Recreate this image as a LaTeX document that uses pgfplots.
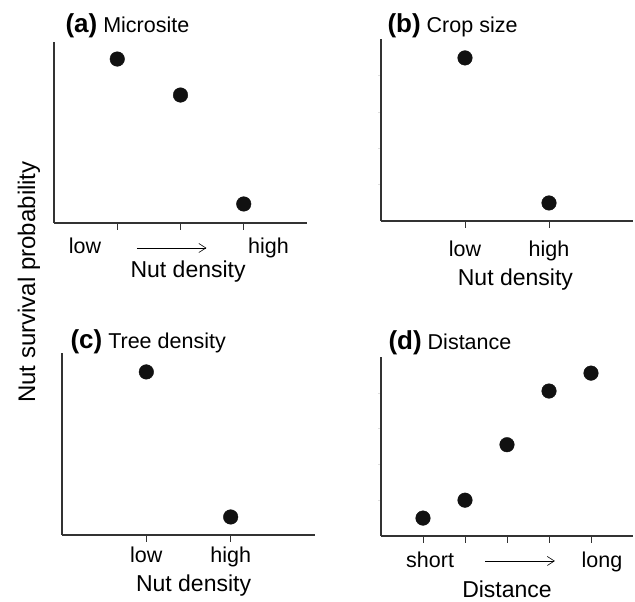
\documentclass[border=0pt]{standalone}
\usepackage{fontspec}
\setmainfont{Liberation Sans}
\usepackage{pgfplots}
\pgfplotsset{compat=1.18}
\usetikzlibrary{arrows.meta}
\definecolor{dot}{HTML}{111111}
\definecolor{axc}{HTML}{333333}
\newcommand{\tl}{\fontsize{21.5}{24}\selectfont}
\newcommand{\xl}{\fontsize{23}{26}\selectfont}
\newcommand{\ttl}[2]{{\fontsize{26}{28}\selectfont\bfseries #1}\fontsize{21.5}{24}\selectfont\ #2}
\pgfplotsset{
  panel/.style={
    scale only axis, anchor=south west,
    axis x line*=bottom, axis y line*=left,
    axis line style={-, line width=1.1pt, axc},
    ymin=0, ymax=1,
    xticklabels={}, yticklabels={},
    tick align=outside, major tick length=7pt,
    xtick style={line width=0.9pt, axc},
    ytick style={line width=0.4pt, gray!25, /pgfplots/major tick length=3pt},
    ytick=\empty,
    clip=false,
  },
  dots/.style={only marks, mark=*, mark size=7.3pt, mark options={fill=dot, draw=dot}},
  faint/.style={ytick={0.2,0.4,0.6,0.8}},
}
\begin{document}
\begin{tikzpicture}[x=1pt,y=1pt]
\useasboundingbox (0,0) rectangle (635,602);
\node[rotate=90, anchor=base] at (35,320) {\fontsize{24}{26}\selectfont Nut survival probability};
% (a)
\begin{axis}[panel, at={(54pt,379pt)}, width=253pt, height=181pt, xmin=0, xmax=4, xtick={1,2,3}]
\addplot[dots] coordinates {(1,0.906) (2,0.707) (3,0.105)};
\node[anchor=base west] at (rel axis cs:0,1) [xshift=8pt, yshift=9pt] {\ttl{(a)}{Microsite}};
\node[anchor=base] at (axis cs:0.49,0) [yshift=-31pt] {\tl low};
\node[anchor=base] at (axis cs:3.39,0) [yshift=-31pt] {\tl high};
\draw[line width=0.6pt, -{Straight Barb[length=7pt,width=9pt,line width=0.6pt]}] ([yshift=-25pt]axis cs:1.31,0) -- ([yshift=-25pt]axis cs:2.41,0);
\node[anchor=base] at (axis cs:2.12,0) [yshift=-55pt] {\xl Nut density};
\end{axis}
% (b)
\begin{axis}[panel, faint, at={(381pt,381pt)}, width=252pt, height=182pt, xmin=0, xmax=3, xtick={1,2}]
\addplot[dots] coordinates {(1,0.896) (2,0.099)};
\node[anchor=base west] at (rel axis cs:0,1) [xshift=3pt, yshift=6pt] {\ttl{(b)}{Crop size}};
\node[anchor=base] at (axis cs:1,0) [yshift=-36pt] {\tl low};
\node[anchor=base] at (axis cs:2,0) [yshift=-36pt] {\tl high};
\node[anchor=base] at (axis cs:1.6,0) [yshift=-65pt] {\xl Nut density};
\end{axis}
% (c)
\begin{axis}[panel, at={(62pt,67pt)}, width=253pt, height=182pt, xmin=0, xmax=3, xtick={1,2}]
\addplot[dots] coordinates {(1,0.896) (2,0.099)};
\node[anchor=base west] at (rel axis cs:0,1) [xshift=5pt, yshift=4pt] {\ttl{(c)}{Tree density}};
\node[anchor=base] at (axis cs:1,0) [yshift=-28pt] {\tl low};
\node[anchor=base] at (axis cs:2,0) [yshift=-28pt] {\tl high};
\node[anchor=base] at (axis cs:1.56,0) [yshift=-57pt] {\xl Nut density};
\end{axis}
% (d)
\begin{axis}[panel, faint, at={(381pt,66pt)}, width=252pt, height=179pt, xmin=0, xmax=6, xtick={1,2,3,4,5}]
\addplot[dots] coordinates {(1,0.10) (2,0.20) (3,0.51) (4,0.81) (5,0.91)};
\node[anchor=base west] at (rel axis cs:0,1) [xshift=4pt, yshift=7pt] {\ttl{(d)}{Distance}};
\node[anchor=base] at (axis cs:1.17,0) [yshift=-32pt] {\tl short};
\node[anchor=base] at (axis cs:5.26,0) [yshift=-32pt] {\tl long};
\draw[line width=0.6pt, -{Straight Barb[length=7pt,width=9pt,line width=0.6pt]}] ([yshift=-25pt]axis cs:2.48,0) -- ([yshift=-25pt]axis cs:4.14,0);
\node[anchor=base] at (axis cs:3.0,0) [yshift=-62pt] {\xl Distance};
\end{axis}
\end{tikzpicture}
\end{document}
